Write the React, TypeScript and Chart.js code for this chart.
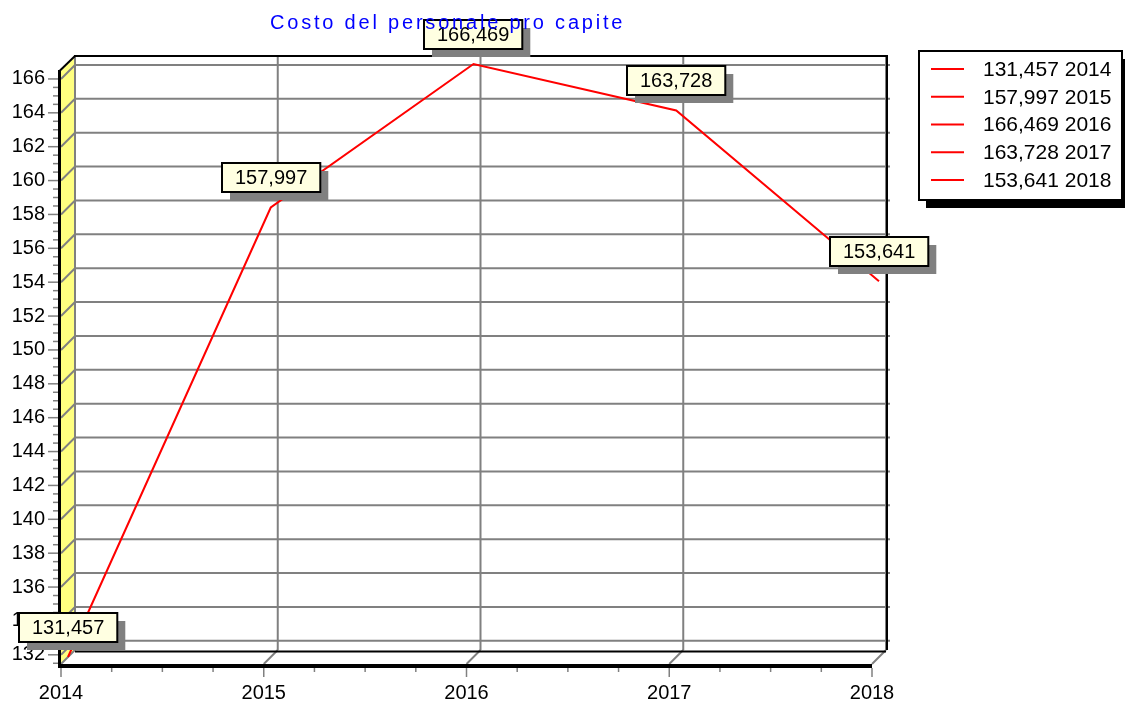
import React, { useEffect, useRef } from "react";
import { Chart, registerables } from "chart.js";

Chart.register(...registerables);

const TITLE = "Costo del personale pro capite";
const YEARS = ["2014", "2015", "2016", "2017", "2018"];
const VALUES = [131.457, 157.997, 166.469, 163.728, 153.641];
const VALUE_LABELS = ["131,457", "157,997", "166,469", "163,728", "153,641"];
const LEGEND_LABELS = ["131,457 2014", "157,997 2015", "166,469 2016", "163,728 2017", "153,641 2018"];
const Y_TICKS = [132, 134, 136, 138, 140, 142, 144, 146, 148, 150, 152, 154, 156, 158, 160, 162, 164, 166];
const Y_MIN = 131.457;
const Y_MAX = 166.469;

const FONT = '"Liberation Sans", Arial, Helvetica, sans-serif';
const DX = 14;
const DY = -14;
const GRID = "#808080";

function line(ctx: CanvasRenderingContext2D, x1: number, y1: number, x2: number, y2: number) {
  ctx.beginPath();
  ctx.moveTo(x1, y1);
  ctx.lineTo(x2, y2);
  ctx.stroke();
}

const wallsPlugin = {
  id: "walls3d",
  beforeDraw(chart: any) {
    const ctx: CanvasRenderingContext2D = chart.ctx;
    const { left: L, right: R, top: T, bottom: B } = chart.chartArea;
    const xs = chart.scales.x;
    const ys = chart.scales.y;
    ctx.save();
    ctx.fillStyle = "#ffffff";
    ctx.fillRect(0, 0, chart.width, chart.height);

    // left wall
    ctx.fillStyle = "#ffff80";
    ctx.beginPath();
    ctx.moveTo(L, B);
    ctx.lineTo(L, T);
    ctx.lineTo(L + DX, T + DY);
    ctx.lineTo(L + DX, B + DY);
    ctx.closePath();
    ctx.fill();

    ctx.strokeStyle = GRID;
    ctx.lineWidth = 2;
    // horizontal grid on back wall + diagonals on left wall
    ys.ticks.forEach((t: any) => {
      const yp = ys.getPixelForValue(t.value);
      line(ctx, L + DX, yp + DY, R + DX + 4, yp + DY);
      line(ctx, L, yp, L + DX, yp + DY);
    });
    // vertical grid on back wall + diagonals on floor
    YEARS.forEach((_, i) => {
      const xp = xs.getPixelForValue(i);
      line(ctx, xp + DX, T + DY, xp + DX, B + DY);
      line(ctx, xp + DX, B + DY, xp, B);
    });

    // y ticks
    ctx.lineWidth = 1.5;
    ys.ticks.forEach((t: any) => {
      const yp = ys.getPixelForValue(t.value);
      line(ctx, L - 13, yp, L - 3, yp);
      for (let k = 1; k <= 3; k++) {
        const v = t.value + k * 0.5;
        if (v > Y_MAX) break;
        const ym = ys.getPixelForValue(v);
        line(ctx, L - 8, ym, L - 3, ym);
      }
    });
    for (let k = 1; k <= 3; k++) {
      const v = Y_TICKS[0] - k * 0.5;
      if (v < Y_MIN) break;
      const ym = ys.getPixelForValue(v);
      line(ctx, L - 8, ym, L - 3, ym);
    }
    // x ticks
    YEARS.forEach((_, i) => {
      const xp = xs.getPixelForValue(i);
      line(ctx, xp, B + 4, xp, B + 13);
      if (i < YEARS.length - 1) {
        const xn = xs.getPixelForValue(i + 1);
        for (let k = 1; k <= 3; k++) {
          const xm = xp + ((xn - xp) * k) / 4;
          line(ctx, xm, B + 4, xm, B + 8);
        }
      }
    });

    // black edges
    ctx.strokeStyle = "#000000";
    ctx.lineWidth = 2;
    line(ctx, L + DX - 1, T + DY - 1, R + DX + 2, T + DY - 1); // back top
    line(ctx, R + DX + 1, T + DY - 1, R + DX + 1, B + DY); // back right
    line(ctx, L + DX, B + DY + 1.5, R + DX, B + DY + 1.5); // back bottom
    line(ctx, L - 1.5, T, L + DX, T + DY - 1); // top diagonal
    ctx.lineWidth = 3;
    line(ctx, L - 1.5, T - 1, L - 1.5, B + 4); // front left edge
    ctx.lineWidth = 4;
    line(ctx, L - 3, B + 2, R, B + 2); // front bottom
    ctx.restore();
  },
  beforeDatasetsDraw(chart: any) {
    chart.ctx.save();
    chart.ctx.translate(DX / 2, DY / 2);
  },
  afterDatasetsDraw(chart: any) {
    chart.ctx.restore();
  },
  afterDraw(chart: any) {
    const ctx: CanvasRenderingContext2D = chart.ctx;
    const meta = chart.getDatasetMeta(0);
    const color = chart.data.datasets[0].borderColor as string;
    ctx.save();

    // value labels
    ctx.font = `20px ${FONT}`;
    ctx.textAlign = "center";
    ctx.textBaseline = "middle";
    meta.data.forEach((pt: any, i: number) => {
      const px = pt.x + DX / 2;
      const py = pt.y + DY / 2;
      const txt = VALUE_LABELS[i];
      const w = ctx.measureText(txt).width + 26;
      const h = 29;
      const x0 = Math.round(px - w / 2);
      const y0 = Math.round(py - 15 - h);
      ctx.fillStyle = "#808080";
      ctx.fillRect(x0 + 8, y0 + 8, w, h);
      ctx.fillStyle = "#ffffe1";
      ctx.fillRect(x0, y0, w, h);
      ctx.strokeStyle = "#000000";
      ctx.lineWidth = 2;
      ctx.strokeRect(x0, y0, w, h);
      ctx.fillStyle = "#000000";
      ctx.fillText(txt, x0 + w / 2, y0 + h / 2 + 1);
    });

    // legend
    const lx = 919, ly = 51, lw = 203, lh = 149;
    ctx.fillStyle = "#000000";
    ctx.fillRect(lx + 7, ly + 8, lw, lh);
    ctx.fillStyle = "#ffffff";
    ctx.fillRect(lx, ly, lw, lh);
    ctx.strokeStyle = "#000000";
    ctx.lineWidth = 2;
    ctx.strokeRect(lx, ly, lw, lh);
    ctx.font = `21px ${FONT}`;
    ctx.textAlign = "left";
    ctx.textBaseline = "middle";
    LEGEND_LABELS.forEach((lab, i) => {
      const y = 69 + i * 27.75;
      ctx.strokeStyle = color;
      ctx.lineWidth = 2;
      line(ctx, 931, y, 964, y);
      ctx.fillStyle = "#000000";
      ctx.fillText(lab, 983, y + 1);
    });

    // title
    ctx.font = `20px ${FONT}`;
    ctx.fillStyle = "#0000ff";
    ctx.textAlign = "left";
    ctx.textBaseline = "alphabetic";
    (ctx as any).letterSpacing = "2.8px";
    ctx.fillText(TITLE, 270, 29);
    ctx.restore();
  },
};

export default function App() {
  const ref = useRef<HTMLCanvasElement | null>(null);
  useEffect(() => {
    if (!ref.current) return;
    const chart = new Chart(ref.current, {
      type: "line",
      data: {
        labels: YEARS,
        datasets: [
          {
            label: TITLE,
            data: VALUES,
            borderColor: "#ff0000",
            borderWidth: 2,
            pointRadius: 0,
            tension: 0,
            fill: false,
            clip: false as any,
          },
        ],
      },
      options: {
        responsive: false,
        animation: false,
        devicePixelRatio: 1,
        layout: { padding: { left: 0, right: 253, top: 71, bottom: 0 } },
        plugins: { legend: { display: false }, title: { display: false }, tooltip: { enabled: false } },
        scales: {
          x: {
            type: "category",
            offset: false,
            grid: { display: false },
            border: { display: false },
            ticks: {
              color: "#000000",
              font: { family: FONT, size: 20 },
              padding: 9,
              autoSkip: false,
              maxRotation: 0,
            },
            afterFit: (s: any) => {
              s.height = 41;
              s.paddingLeft = 0;
              s.paddingRight = 0;
            },
          },
          y: {
            type: "linear",
            min: Y_MIN,
            max: Y_MAX,
            grid: { display: false },
            border: { display: false },
            afterBuildTicks: (s: any) => {
              s.ticks = Y_TICKS.map((v) => ({ value: v }));
            },
            ticks: {
              color: "#000000",
              font: { family: FONT, size: 20 },
              padding: 8,
              autoSkip: false,
              callback: (v: any) => String(v),
            },
            afterFit: (s: any) => {
              s.width = 61;
              s.paddingTop = 0;
              s.paddingBottom = 0;
            },
          },
        },
      },
      plugins: [wallsPlugin],
    });
    return () => chart.destroy();
  }, []);
  return (
    <div style={{ position: "fixed", left: 0, top: 0, width: 1125, height: 705, background: "#fff" }}>
      <canvas ref={ref} width={1125} height={705} style={{ display: "block" }} />
    </div>
  );
}
